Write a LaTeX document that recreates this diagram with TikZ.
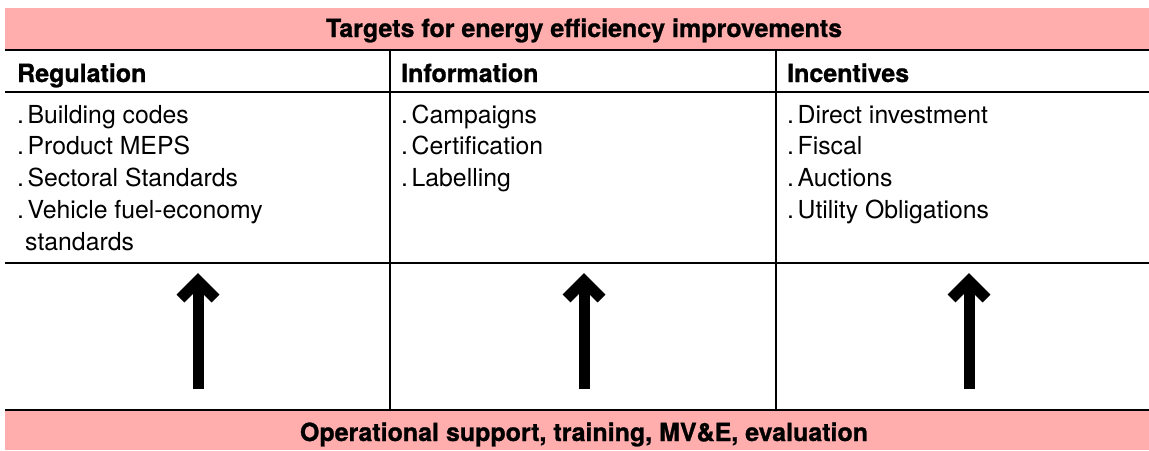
\documentclass[tikz,border=0pt]{standalone}
\usepackage{fontspec}
\setmainfont[BoldFeatures={FakeBold=1}]{TeX Gyre Heros}
\newcommand\dotitem[1]{.\kern3.5pt #1}
\begin{document}
\begin{tikzpicture}[x=1pt,y=-1pt,
  band/.style={fill=bandpink,draw=none},
  rule/.style={draw=black,line width=1.4pt},
  title/.style={font=\fontsize{25}{28}\selectfont\bfseries,inner sep=0pt,anchor=base},
  head/.style={font=\fontsize{25}{28}\selectfont\bfseries,inner sep=0pt,anchor=base west},
  item/.style={font=\fontsize{24.8}{28}\selectfont,inner sep=0pt,anchor=base west},
  bigarrow/.style={line width=11pt,black}
]
\definecolor{bandpink}{RGB}{255,173,173}
\useasboundingbox (0,0) rectangle (1149,450);
\fill[white] (0,0) rectangle (1149,450);

% top and bottom bands
\fill[band] (5,8) rectangle (1149,50);
\fill[band] (5,410) rectangle (1149,450);
\node[title] (tgt) at (584,37) {Targets for energy efficiency improvements};
\node[title] (ops) at (584,441) {Operational support, training, MV\&E, evaluation};

% table rules
\draw[rule] (5,50) -- (1149,50);
\draw[rule] (5,92) -- (1149,92);
\draw[rule] (5,263) -- (1149,263);
\draw[rule] (5,410) -- (1149,410);
\draw[rule] (390,50) -- (390,410);
\draw[rule] (776,50) -- (776,410);

% column headings
\node[head] (hreg) at (17,82) {Regulation};
\node[head] (hinf) at (401,82) {Information};
\node[head] (hinc) at (787,82) {Incentives};

% column items
\foreach \t [count=\i] in {Building codes,Product MEPS,Sectoral Standards,Vehicle fuel-economy}
  \node[item] (reg\i) at (17,{123+31.75*(\i-1)}) {\dotitem{\t}};
\node[item] (reg5) at (25,250) {standards};
\foreach \t [count=\i] in {Campaigns,Certification,Labelling}
  \node[item] (inf\i) at (401,{123+31.75*(\i-1)}) {\dotitem{\t}};
\foreach \t [count=\i] in {Direct investment,Fiscal,Auctions,Utility Obligations}
  \node[item] (inc\i) at (787,{123+31.75*(\i-1)}) {\dotitem{\t}};

% upward arrows
\foreach \n/\x in {a/198,b/584,c/969}{
  \coordinate (\n0) at (\x,389);
  \coordinate (\n1) at (\x,282);
  \coordinate (\n2) at (\x,281);
  \coordinate (\n3) at (\x-17.5,298.5);
  \coordinate (\n4) at (\x+17.5,298.5);
  \draw[bigarrow,line cap=butt] (\n0) -- (\n1);
  \draw[bigarrow,line cap=butt,line join=miter] (\n3) -- (\n2) -- (\n4);
}
\end{tikzpicture}
\end{document}
